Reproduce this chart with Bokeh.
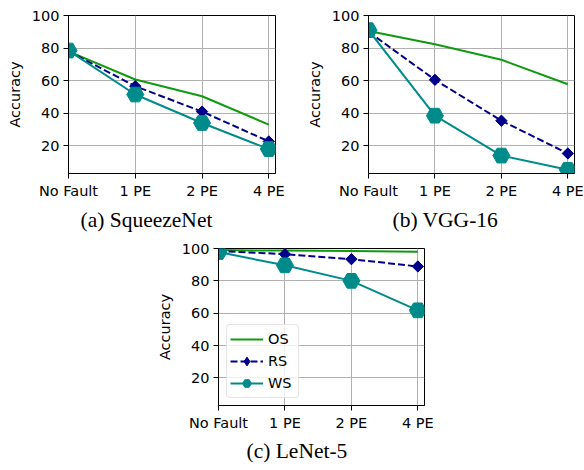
import numpy as np
from bokeh.plotting import figure
from bokeh.models import FixedTicker, Title, Range1d, Spacer, Legend, LegendItem
from bokeh.layouts import column, row
from bokeh.embed import file_html
from bokeh.resources import INLINE

# ---- data ----
categories = ["No Fault", "1 PE", "2 PE", "4 PE"]
xs = [0, 1, 2, 3]
y_ticks = [20, 40, 60, 80, 100]

squeeze_os = [78.0, 60.7, 50.4, 33.0]
squeeze_rs = [78.0, 56.6, 41.0, 22.7]
squeeze_ws = [78.5, 51.5, 34.0, 18.0]

vgg_os = [90.5, 82.3, 72.8, 57.8]
vgg_rs = [90.0, 60.5, 35.4, 15.3]
vgg_ws = [91.0, 38.5, 14.0, 5.3]

lenet_os = [99.0, 98.7, 98.4, 98.0]
lenet_rs = [98.5, 96.5, 93.4, 88.9]
lenet_ws = [97.8, 89.6, 80.0, 61.8]

GREEN = "#109a10"
NAVY = "#00008b"
TEAL = "#008b8b"
FONT = "DejaVu Sans"
FS = "14.5px"


def make_fig(width, height, bl, br, bt, bb, os_v, rs_v, ws_v, caption, cap_off,
             cap_standoff, legend=False):
    p = figure(width=width, height=height,
               x_range=Range1d(0, 3.1), y_range=Range1d(3, 100),
               output_backend="svg", toolbar_location=None,
               min_border_left=bl, min_border_right=br,
               min_border_top=bt, min_border_bottom=bb)
    p.outline_line_color = "black"
    p.outline_line_width = 1
    p.outline_line_alpha = 1
    for ax in (p.xaxis, p.yaxis):
        ax.major_label_text_font = FONT
        ax.major_label_text_font_size = FS
        ax.major_label_text_color = "black"
        ax.major_tick_out = 5
        ax.major_tick_in = 0
        ax.minor_tick_out = 0
        ax.minor_tick_in = 0
        ax.major_label_standoff = 4
        ax.axis_line_color = "black"
        ax.major_tick_line_color = "black"
    p.xaxis.ticker = FixedTicker(ticks=xs)
    p.xaxis.major_label_overrides = {x: c for x, c in zip(xs, categories)}
    p.yaxis.ticker = FixedTicker(ticks=y_ticks)
    p.yaxis.axis_label = "Accuracy"
    p.yaxis.axis_label_text_font = FONT
    p.yaxis.axis_label_text_font_size = FS
    p.yaxis.axis_label_text_font_style = "normal"
    p.yaxis.axis_label_text_color = "black"
    p.yaxis.axis_label_standoff = 6
    p.grid.grid_line_color = "#b0b0b0"
    p.grid.grid_line_width = 1

    r_os = p.line(xs, os_v, line_color=GREEN, line_width=2)
    r_rs = p.line(xs, rs_v, line_color=NAVY, line_width=2, line_dash="7 3")
    # diamond marker (used for the legend key), covered by the rotated squares
    r_rs_key = p.scatter(xs, rs_v, marker="diamond", size=10,
                         fill_color=NAVY, line_color=NAVY)
    p.scatter(xs, rs_v, marker="square", size=8, angle=np.pi / 4,
              fill_color=NAVY, line_color=NAVY)
    r_ws = p.line(xs, ws_v, line_color=TEAL, line_width=2)
    r_wsm = p.scatter(xs, ws_v, marker="hex", size=17,
                      fill_color=TEAL, line_color=TEAL)

    if legend:
        lg = Legend(items=[
            LegendItem(label="OS", renderers=[r_os]),
            LegendItem(label="RS", renderers=[r_rs, r_rs_key]),
            LegendItem(label="WS", renderers=[r_ws, r_wsm]),
        ])
        lg.location = (8, 7)
        lg.margin = 0
        lg.padding = 3
        lg.spacing = 0
        lg.glyph_width = 33
        lg.glyph_height = 22
        lg.label_height = 22
        lg.label_width = 27
        lg.label_standoff = 5
        lg.label_text_font = FONT
        lg.label_text_font_size = FS
        lg.label_text_color = "black"
        lg.border_line_color = "#cccccc"
        lg.border_line_width = 1
        lg.border_radius = 4
        lg.background_fill_alpha = 0.8
        p.add_layout(lg, "center")

    t = Title(text=caption, align="left", offset=cap_off,
              text_font="Liberation Serif", text_font_size="21.5px",
              text_font_style="normal", text_color="black", standoff=cap_standoff)
    p.add_layout(t, "below")
    return p


fa = make_fig(292, 238, 68, 17, 15, 65, squeeze_os, squeeze_rs, squeeze_ws,
              "(a) SqueezeNet", 12, 9)
fb = make_fig(292, 238, 76, 10, 15, 65, vgg_os, vgg_rs, vgg_ws,
              "(b) VGG-16", 24, 9)
fc = make_fig(294, 232, 68, 20, 10, 65, lenet_os, lenet_rs, lenet_ws,
              "(c) LeNet-5", 28, 7, legend=True)

layout = column(row(fa, fb), row(Spacer(width=150, height=232), fc))

open("out.html", "w").write(file_html(layout, INLINE))
